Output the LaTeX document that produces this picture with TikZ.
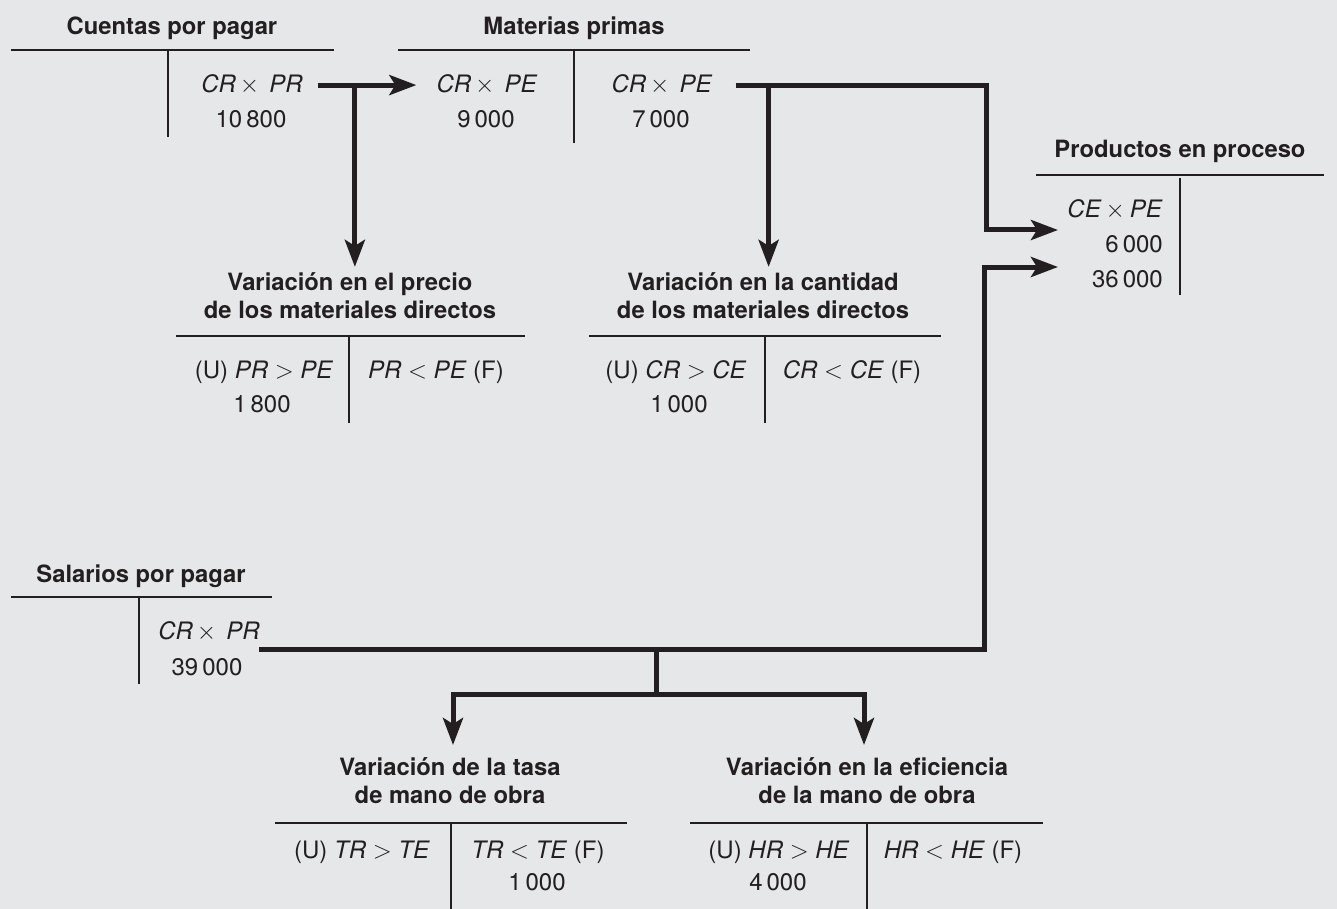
\documentclass[tikz,border=0pt]{standalone}
\usepackage{fontspec}
\setmainfont{TeX Gyre Heros}
\usetikzlibrary{arrows.meta,calc}
\definecolor{tinta}{HTML}{231F20}
\definecolor{fondo}{HTML}{E6E7E8}
\tikzset{
  titulo/.style={
    font=\fontsize{23.8}{28}\selectfont\bfseries,
    text=tinta,
    inner sep=0pt,
    align=center,
    anchor=base
  },
  asiento/.style={
    font=\fontsize{24}{28}\selectfont,
    text=tinta,
    inner sep=0pt,
    anchor=base
  },
  raya/.style={
    draw=tinta,
    line width=1.3pt
  },
  tramo/.style={
    draw=tinta,
    line width=5pt
  },
  flecha/.style={
    tramo,
    -{Stealth[length=27pt,width=20pt,inset=6pt]}
  }
}

\begin{document}
\begin{tikzpicture}[x=1pt,y=-1pt]
  \fill[fondo] (0,0) rectangle (1337,909);
  \useasboundingbox (0,0) rectangle (1337,909);

  % Cuentas por pagar
  \node[titulo] (cpp) at (172,35) {Cuentas por pagar};
  \draw[raya] (11,50) -- (334,50) (168,50) -- (168,137);
  \node[asiento] (cpp1) at (252,93) {\textit{CR}\kern4pt$\times$\kern10pt\textit{PR}};
  \node[asiento] (cpp2) at (251,128) {10\,800};

  % Materias primas
  \node[titulo] (mp) at (574,35) {Materias primas};
  \draw[raya] (398,50) -- (750,50) (574,50) -- (574,143);
  \node[asiento] (mp1) at (487,93) {\textit{CR}\kern4pt$\times$\kern10pt\textit{PE}};
  \node[asiento] (mp2) at (486,128) {9\,000};
  \node[asiento] (mp3) at (662,93) {\textit{CR}\kern4pt$\times$\kern10pt\textit{PE}};
  \node[asiento] (mp4) at (661,128) {7\,000};

  % Productos en proceso
  \node[titulo] (pp) at (1180,158) {Productos en proceso};
  \draw[raya] (1036,175) -- (1324,175) (1180,178) -- (1180,295);
  \node[asiento,anchor=base east] (pp1) at (1163,218) {\textit{CE}\kern4pt$\times$\kern5pt\textit{PE}};
  \node[asiento,anchor=base east] (pp2) at (1163,252) {6\,000};
  \node[asiento,anchor=base east] (pp3) at (1163,287) {36\,000};

  % Variacion en el precio
  \node[titulo] (vpre) at (350,318) {Variación en el precio\\de los materiales directos};
  \draw[raya] (176,336) -- (525,336) (349,336) -- (349,423);
  \node[asiento] (vpre1) at (264,378) {(U) \textit{PR} $>$ \textit{PE}};
  \node[asiento] (vpre2) at (262,412) {1\,800};
  \node[asiento] (vpre3) at (436,378) {\textit{PR} $<$ \textit{PE} (F)};

  % Variacion en la cantidad
  \node[titulo] (vcan) at (763,318) {Variación en la cantidad\\de los materiales directos};
  \draw[raya] (589,336) -- (941,336) (765,336) -- (765,423);
  \node[asiento] (vcan1) at (676,378) {(U) \textit{CR} $>$ \textit{CE}};
  \node[asiento] (vcan2) at (679,412) {1\,000};
  \node[asiento] (vcan3) at (852,378) {\textit{CR} $<$ \textit{CE} (F)};

  % Salarios por pagar
  \node[titulo] (spp) at (141,582) {Salarios por pagar};
  \draw[raya] (11,597) -- (272,597) (139,597) -- (139,684);
  \node[asiento] (spp1) at (209,639) {\textit{CR}\kern4pt$\times$\kern10pt\textit{PR}};
  \node[asiento] (spp2) at (207,675) {39\,000};

  % Variacion de la tasa
  \node[titulo] (vtas) at (450,803) {Variación de la tasa\\de mano de obra};
  \draw[raya] (275,823) -- (627,823) (451,823) -- (451,909);
  \node[asiento] (vtas1) at (362,858) {(U) \textit{TR} $>$ \textit{TE}};
  \node[asiento] (vtas2) at (538,858) {\textit{TR} $<$ \textit{TE} (F)};
  \node[asiento] (vtas3) at (537,890) {1\,000};

  % Variacion en la eficiencia
  \node[titulo] (vefi) at (867,803) {Variación en la eficiencia\\de la mano de obra};
  \draw[raya] (690,823) -- (1043,823) (867,823) -- (867,909);
  \node[asiento] (vefi1) at (779,858) {(U) \textit{HR} $>$ \textit{HE}};
  \node[asiento] (vefi2) at (778,890) {4\,000};
  \node[asiento] (vefi3) at (953,858) {\textit{HR} $<$ \textit{HE} (F)};

  % flujos
  \coordinate (j1) at ([xshift=52pt]cpp1.east);
  \coordinate (j2) at ([xshift=56pt]mp3.east);
  \coordinate (r1) at (986,230);
  \coordinate (e1) at (1058,230);
  \coordinate (s0) at (259,649);
  \coordinate (s1) at (984,649);
  \coordinate (e2) at (1058,267);
  \coordinate (b0) at (656,649);
  \coordinate (b1) at (656,694);
  \coordinate (t1) at (453,745);
  \coordinate (t2) at (864,745);

  \draw[flecha] ([xshift=15pt]cpp1.east) -- ([xshift=-20pt]mp1.west);
  \draw[flecha] (j1) -- ($(j1 |- vpre.north)+(0,-5)$);
  \draw[flecha] ([xshift=23pt]mp3.east) -| (r1) -- (e1);
  \draw[flecha] (j2) -- ($(j2 |- vcan.north)+(0,-5)$);
  \draw[flecha] (s0) -- (s1) |- (e2);
  \draw[tramo] (b0) -- (b1);
  \draw[flecha] (b1) -| (t1);
  \draw[flecha] (b1) -| (t2);
\end{tikzpicture}
\end{document}
